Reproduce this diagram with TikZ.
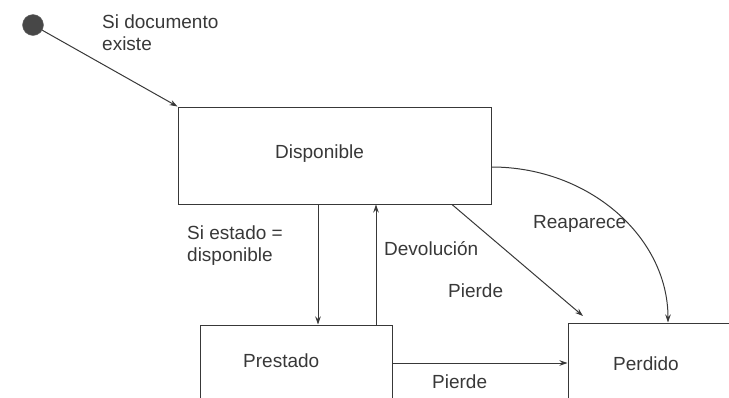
\documentclass[tikz,border=0pt]{standalone}
\usepackage{fontspec}
\setmainfont{Liberation Sans}
\usetikzlibrary{arrows.meta}
\definecolor{ink}{gray}{0.22}
\begin{document}
\begin{tikzpicture}[x=1pt,y=-1pt,
  ink line/.style={draw=ink, line width=1pt},
  arr/.style={ink line, -{Stealth[length=8pt,width=5.5pt]}},
  statebox/.style={ink line, rectangle, inner sep=0pt},
  txt/.style={text=ink, inner sep=0pt, font=\fontsize{19}{22}\selectfont},
  initstate/.style={circle, fill=black!72, draw=black!60, inner sep=0pt, minimum size=21pt}]
\useasboundingbox (0,0) rectangle (729,397);
\clip (0,0) rectangle (729,397);
% states
\node[initstate] (start) at (33,25) {};
\node[statebox, minimum width=313pt, minimum height=97pt] (disp) at (334.5,155.5) {};
\node[statebox, minimum width=192pt, minimum height=110pt] (prest) at (296,380) {};
\node[statebox, minimum width=200pt, minimum height=110pt] (perd) at (668,378) {};
% state names
\node[txt, anchor=base west] at (275,158) {Disponible};
\node[txt, anchor=base west] at (243,367) {Prestado};
\node[txt, anchor=base west] at (613,370) {Perdido};
% transitions
\coordinate (lostend) at (583,316);
\draw[arr] (start) -- (disp.north west);
\draw[arr] (318,0 |- disp.south) -- (318,0 |- prest.north);
\draw[arr] (376,0 |- prest.north) -- (376,0 |- disp.south);
\draw[arr] (452,0 |- disp.south) -- (lostend);
\draw[arr] (prest.east |- 0,363) -- (perd.west |- 0,363);
\draw[arr] (disp.east |- 0,167) .. controls (589,167) and (668,237) .. (668,0 |- perd.north);
% labels
\node[txt, anchor=base west, align=left] at (102,50) {Si documento\\existe};
\node[txt, anchor=base west, align=left] at (187,261) {Si estado =\\disponible};
\node[txt, anchor=base west] at (384,255) {Devolución};
\node[txt, anchor=base west] at (448,297) {Pierde};
\node[txt, anchor=base west] at (533,228) {Reaparece};
\node[txt, anchor=base west] at (432,388) {Pierde};
\end{tikzpicture}
\end{document}
